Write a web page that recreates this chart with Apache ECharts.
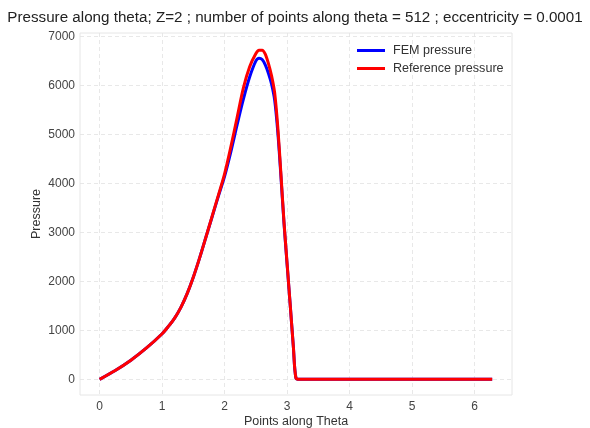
<!DOCTYPE html>
<html>
<head>
<meta charset="utf-8">
<script src="https://cdn.jsdelivr.net/npm/echarts@6/dist/echarts.min.js"></script>
<style>
html,body{margin:0;padding:0;background:#fff;overflow:hidden;}
#chart{width:590px;height:428px;}
</style>
</head>
<body>
<div id="chart"></div>
<script>
const titleText = "Pressure along theta; Z=2 ; number of points along theta = 512 ; eccentricity = 0.0001";
const xName = "Points along Theta";
const yName = "Pressure";
const seriesNames = ["FEM pressure", "Reference pressure"];
const xTicks = [0, 1, 2, 3, 4, 5, 6];
const yTicks = [0, 1000, 2000, 3000, 4000, 5000, 6000, 7000];

const theta = [0, 0.25, 0.5, 0.75, 1.0, 1.1, 1.2, 1.3, 1.4, 1.5, 1.6, 1.7, 1.8, 1.9, 2.0, 2.1, 2.2, 2.3, 2.4, 2.5, 2.55, 2.6, 2.65, 2.7, 2.75, 2.8, 2.85, 2.9, 2.95, 3.0, 3.05, 3.1, 3.14, 3.2, 4.0, 5.0, 6.0, 6.28];
const femPressure = [0, 180, 390, 640, 930, 1080, 1250, 1470, 1750, 2090, 2480, 2900, 3320, 3740, 4150, 4650, 5200, 5720, 6170, 6500, 6555, 6530, 6420, 6250, 6030, 5700, 5050, 4150, 3180, 2330, 1500, 650, 30, 0, 0, 0, 0, 0];
const refPressure = [0, 180, 390, 640, 930, 1080, 1250, 1470, 1750, 2090, 2480, 2900, 3330, 3760, 4200, 4750, 5350, 5950, 6380, 6650, 6720, 6720, 6640, 6450, 6200, 5850, 5150, 4200, 3200, 2350, 1500, 650, 30, 0, 0, 0, 0, 0];

const pair = (xs, ys) => xs.map((x, i) => [x, ys[i]]);
const font = "'Liberation Sans', Arial, sans-serif";

const chart = echarts.init(document.getElementById('chart'), null, {renderer: 'canvas', width: 590, height: 428});
chart.setOption({
  animation: false,
  backgroundColor: '#ffffff',
  title: {
    text: titleText, left: 'center', top: 5,
    textStyle: {fontFamily: font, fontSize: 15.2, fontWeight: 'normal', color: '#222'}
  },
  legend: {
    orient: 'vertical', left: 352, top: 39, itemWidth: 28, itemHeight: 3, itemGap: 5,
    icon: 'rect',
    textStyle: {fontFamily: font, fontSize: 12.6, color: '#333', padding: [0, 0, 0, 3]},
    data: seriesNames
  },
  grid: {left: 80, right: 78, top: 33, bottom: 33, show: true, borderColor: '#e6e6e6', borderWidth: 1,
    containLabel: false, outerBoundsMode: 'none'},
  xAxis: {
    type: 'value', min: -0.314, max: 6.597,
    name: xName, nameLocation: 'middle', nameGap: 20, nameMoveOverlap: false,
    nameTextStyle: {fontFamily: font, fontSize: 12.5, color: '#333'},
    axisLine: {show: false},
    axisTick: {show: false, customValues: xTicks},
    axisLabel: {customValues: xTicks, fontFamily: font, fontSize: 12, color: '#444', margin: 6},
    splitLine: {show: true, lineStyle: {type: [4, 3], color: '#e2e2e2', width: 0.8}}
  },
  yAxis: {
    type: 'value', min: -320, max: 7070,
    name: yName, nameLocation: 'middle', nameGap: 37, nameMoveOverlap: false,
    nameTextStyle: {fontFamily: font, fontSize: 12.5, color: '#333'},
    axisLine: {show: false},
    axisTick: {show: false, customValues: yTicks},
    axisLabel: {customValues: yTicks, fontFamily: font, fontSize: 12, color: '#444', margin: 5,
      formatter: v => String(v)},
    splitLine: {show: true, lineStyle: {type: [4, 3], color: '#e2e2e2', width: 0.8}}
  },
  series: [
    {name: seriesNames[0], type: 'line', data: pair(theta, femPressure), showSymbol: false, smooth: 0.3,
     lineStyle: {color: '#0000ff', width: 3}, itemStyle: {color: '#0000ff'}, z: 2},
    {name: seriesNames[1], type: 'line', data: pair(theta, refPressure), showSymbol: false, smooth: 0.3,
     lineStyle: {color: '#ff0000', width: 3}, itemStyle: {color: '#ff0000'}, z: 3}
  ]
});
</script>
</body>
</html>
